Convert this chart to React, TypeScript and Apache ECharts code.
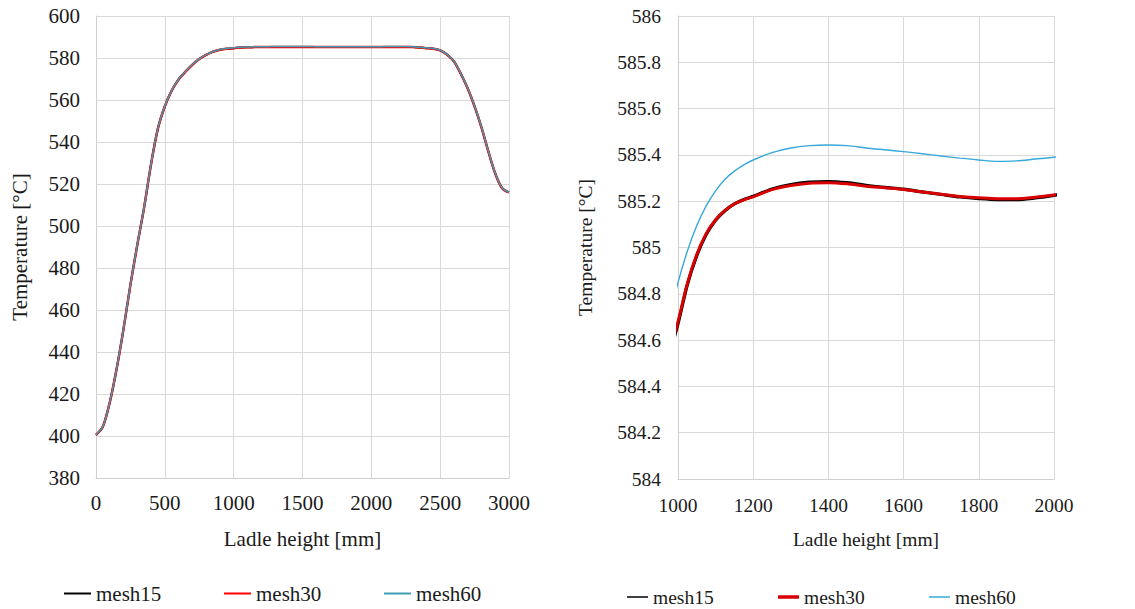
import React, { useEffect, useRef } from "react";
import * as echarts from "echarts";

// Ladle height [mm]
const heights = [
  0, 50, 100, 150, 200, 250, 300, 350, 400, 450, 500, 550, 600, 650, 700, 750, 800, 850, 900, 950,
  1000, 1025, 1050, 1075, 1100, 1125, 1150, 1175, 1200, 1250, 1300, 1350, 1400, 1450, 1500, 1550, 1600, 1650, 1700, 1750, 1800, 1850, 1900, 1950, 2000,
  2050, 2100, 2150, 2200, 2250, 2300, 2350, 2400, 2450, 2500, 2550, 2600, 2650, 2700, 2750, 2800, 2850, 2900, 2950, 3000,
];

// Temperature [°C]
const mesh15 = [
  400.5, 404.5, 416, 432, 451, 472, 491, 509, 529.5, 546.5, 557, 564.5, 569.8, 573.5, 576.8, 579.5, 581.5, 583, 583.9, 584.37,
  584.67, 584.84, 584.965, 585.056, 585.118, 585.159, 585.188, 585.207, 585.221, 585.253, 585.272, 585.282, 585.285, 585.28, 585.269, 585.26, 585.252, 585.24, 585.229, 585.218, 585.211, 585.207, 585.207, 585.214, 585.225,
  585.24, 585.26, 585.28, 585.29, 585.28, 585.2, 584.98, 584.7, 584.4, 583.6, 581.6, 578.4, 572.5, 565.5, 557, 547, 535.5, 525, 518, 516,
];
const mesh30 = [
  400.5, 404.5, 416, 432, 451, 472, 491, 509, 529.5, 546.5, 557, 564.5, 569.8, 573.5, 576.8, 579.5, 581.5, 583, 583.9, 584.38,
  584.68, 584.845, 584.97, 585.06, 585.12, 585.16, 585.188, 585.206, 585.219, 585.25, 585.268, 585.278, 585.28, 585.275, 585.265, 585.258, 585.251, 585.24, 585.23, 585.22, 585.215, 585.211, 585.211, 585.217, 585.227,
  585.24, 585.26, 585.28, 585.29, 585.28, 585.2, 584.98, 584.7, 584.4, 583.6, 581.6, 578.4, 572.5, 565.5, 557, 547, 535.5, 525, 518, 516,
];
const mesh60 = [
  400.6, 404.6, 416.1, 432.1, 451.1, 472.1, 491.1, 509.1, 529.6, 546.6, 557.1, 564.6, 569.9, 573.6, 576.9, 579.6, 581.6, 583.1, 584.05, 584.53,
  584.848, 584.985, 585.095, 585.18, 585.245, 585.295, 585.33, 585.357, 585.378, 585.41, 585.43, 585.44, 585.443, 585.44, 585.43, 585.422, 585.414, 585.405, 585.395, 585.386, 585.378, 585.372, 585.374, 585.382, 585.39,
  585.4, 585.42, 585.43, 585.44, 585.42, 585.33, 585.1, 584.85, 584.5, 583.7, 581.7, 578.5, 572.6, 565.6, 557.1, 547.1, 535.6, 525.1, 518.1, 516.1,
];

const seriesNames = ["mesh15", "mesh30", "mesh60"];

const FONT = "Liberation Serif";
const TXT = "#1a1a1a";
const GRIDC = "#D9D9D9";

const pairs = (ys: number[]) => heights.map((h, i) => [h, ys[i]]);

export default function App() {
  const ref = useRef<HTMLDivElement>(null);
  useEffect(() => {
    if (!ref.current) return;
    const chart = echarts.init(ref.current, undefined, { renderer: "svg" });

    const mkX = (idx: number, min: number, max: number, interval: number, fs: number, margin: number) => ({
      type: "value",
      gridIndex: idx,
      min,
      max,
      interval,
      name: "Ladle height [mm]",
      nameLocation: "middle",
      nameGap: 50,
      nameTextStyle: { fontSize: fs, color: TXT, fontFamily: FONT },
      axisLine: { show: true, lineStyle: { color: "#CFCFCF", width: 1 } },
      axisTick: { show: false },
      axisLabel: {
        fontSize: fs,
        color: TXT,
        fontFamily: FONT,
        margin,
        formatter: (v: number) => String(v),
      },
      splitLine: { show: true, lineStyle: { color: GRIDC, width: 1 } },
    });

    const mkY = (idx: number, min: number, max: number, interval: number, fs: number, gap: number, margin: number) => ({
      type: "value",
      gridIndex: idx,
      min,
      max,
      interval,
      name: "Temperature [°C]",
      nameLocation: "middle",
      nameGap: gap,
      nameTextStyle: { fontSize: fs, color: TXT, fontFamily: FONT },
      axisLine: { show: true, lineStyle: { color: "#CFCFCF", width: 1 } },
      axisTick: { show: false },
      axisLabel: {
        fontSize: fs,
        color: TXT,
        fontFamily: FONT,
        margin,
        formatter: (v: number) => String(Math.round(v * 10) / 10),
      },
      splitLine: { show: true, lineStyle: { color: GRIDC, width: 1 } },
    });

    const leftStyles = [
      { color: "#000000", width: 2 },
      { color: "#FF0000", width: 2.5 },
      { color: "#3E9DB3", width: 1.5 },
    ];
    const rightStyles = [
      { color: "#000000", width: 3.2 },
      { color: "#D80000", width: 3 },
      { color: "#36A9DA", width: 1.4 },
    ];
    const datasets = [mesh15, mesh30, mesh60];

    const series: any[] = [];
    seriesNames.forEach((n, i) => {
      series.push({
        name: n,
        type: "line",
        xAxisIndex: 0,
        yAxisIndex: 0,
        data: pairs(datasets[i]),
        symbol: "none",
        smooth: 0.3,
        clip: true,
        lineStyle: leftStyles[i],
        itemStyle: { color: leftStyles[i].color },
        z: 2 + i,
      });
    });
    seriesNames.forEach((n, i) => {
      series.push({
        name: n,
        type: "line",
        xAxisIndex: 1,
        yAxisIndex: 1,
        data: pairs(datasets[i]),
        symbol: "none",
        smooth: 0.3,
        clip: true,
        lineStyle: rightStyles[i],
        itemStyle: { color: rightStyles[i].color },
        z: 2 + i,
      });
    });

    const leftLegendX = [64, 224, 384];
    const rightLegendX = [627, 778, 929];
    const legends: any[] = [];
    seriesNames.forEach((n, i) => {
      legends.push({
        left: leftLegendX[i],
        top: 583,
        padding: 0,
        icon: "rect",
        itemWidth: 27,
        itemHeight: 2,
        selectedMode: false,
        textStyle: { fontSize: 21, color: TXT, fontFamily: FONT },
        data: [{ name: n, itemStyle: { color: leftStyles[i].color } }],
      });
      legends.push({
        left: rightLegendX[i],
        top: 587,
        padding: 0,
        icon: "rect",
        itemWidth: 21,
        itemHeight: i === 1 ? 3.5 : 1.5,
        selectedMode: false,
        textStyle: { fontSize: 19.5, color: TXT, fontFamily: FONT },
        data: [{ name: n, itemStyle: { color: rightStyles[i].color } }],
      });
    });

    chart.setOption({
      animation: false,
      backgroundColor: "#ffffff",
      textStyle: { fontFamily: FONT, color: TXT },
      grid: [
        { left: 96, top: 16, width: 413, height: 462 },
        { left: 678, top: 16, width: 376, height: 463 },
      ],
      xAxis: [mkX(0, 0, 3000, 500, 21, 14), mkX(1, 1000, 2000, 200, 19.5, 16)],
      yAxis: [mkY(0, 380, 600, 20, 21, 66, 16), mkY(1, 584, 586, 0.2, 19.5, 83, 17)],
      legend: legends,
      series,
    });

    return () => chart.dispose();
  }, []);

  return (
    <div
      ref={ref}
      style={{ position: "fixed", left: 0, top: 0, width: 1135, height: 609, background: "#fff" }}
    />
  );
}
